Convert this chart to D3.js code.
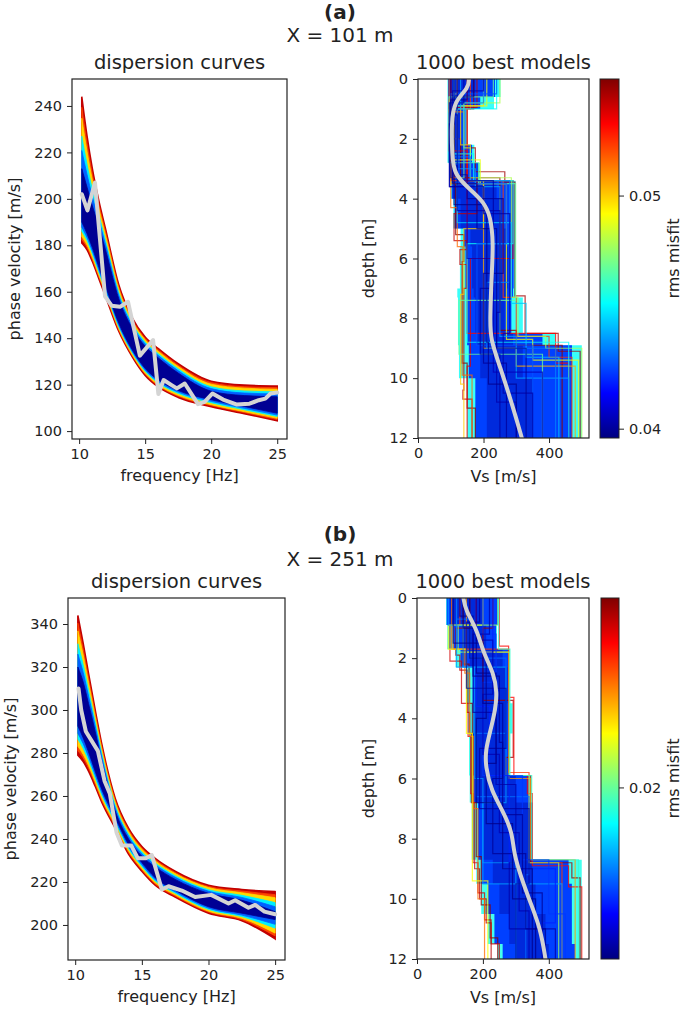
<!DOCTYPE html>
<html><head><meta charset="utf-8">
<script src="https://cdn.jsdelivr.net/npm/d3@7"></script>
<style>
body{margin:0;background:#fff}
text{font-family:"DejaVu Sans",sans-serif;fill:#222}
</style></head>
<body><svg id="c" width="685" height="1011"></svg>
<script>
// ---------------- DATA ----------------
const freqA = [10.2, 10.6, 11, 11.5, 12, 13, 14, 15, 16, 17.5, 20, 22.5, 25];
const levelMisfitA = [0.0540, 0.0520, 0.0498, 0.0451, 0.0430, 0.0399];
const upperA = [
  [244, 227, 213, 199, 187, 163, 149, 140.5, 135.5, 129, 121.5, 119.8, 119.4],
  [239.4, 223.7, 210.6, 197.4, 185.7, 162.1, 148.3, 139.9, 134.9, 128.4, 120.9, 119.1, 118.7],
  [234.7, 220.4, 208.2, 195.7, 184.3, 161.2, 147.7, 139.3, 134.3, 127.8, 120.2, 118.5, 118.0],
  [227, 214.9, 204.2, 193, 182, 159.7, 146.5, 138.3, 133.3, 126.8, 119.1, 117.3, 116.9],
  [220.8, 210.5, 201, 190.8, 180.3, 158.5, 145.6, 137.5, 132.5, 126, 118.3, 116.4, 116.0],
  [213, 205, 197, 188, 178, 157, 144.5, 136.5, 131.5, 125, 117.2, 115.3, 114.8]
];
const lowerA = [
  [181, 178, 173, 165.5, 158, 143, 132.2, 124, 119, 114.5, 110.5, 107.5, 104.5],
  [182.4, 179.1, 173.9, 166.3, 158.7, 143.5, 132.7, 124.5, 119.5, 115, 111, 108, 105],
  [183.7, 180.1, 174.8, 167, 159.4, 144.1, 133.1, 124.9, 119.9, 115.4, 111.4, 108.4, 105.5],
  [186, 181.9, 176.3, 168.3, 160.5, 144.9, 133.9, 125.7, 120.7, 116.2, 112.2, 109.2, 106.3],
  [187.8, 183.3, 177.5, 169.3, 161.4, 145.6, 134.5, 126.3, 121.3, 116.8, 112.8, 109.8, 106.9],
  [190, 185, 179, 170.5, 162.5, 146.5, 135.2, 127, 122, 117.5, 113.5, 110.6, 107.7]
];
const obsFreqA = [10.2, 10.63, 11.2, 11.96, 12.46, 13.09, 13.7, 14.6, 15.6, 16.0, 16.4, 17.0, 17.4, 18.0, 19.0, 19.5, 20.1, 20.9, 21.9, 22.9, 23.6, 24.1, 24.5, 25];
const obsVelA  = [202, 195, 207, 158, 154, 153.5, 155.7, 132.5, 139.2, 116, 122, 119.8, 118.4, 120.5, 111.6, 112.6, 116.2, 113.6, 111.5, 111.8, 113.3, 114, 116.2, 116.6];

const freqB = [10.2, 10.6, 11, 11.5, 12, 13, 14, 15, 16, 17.5, 20, 22.5, 25];
const levelMisfitB = [0.02464, 0.02333, 0.02189, 0.01884, 0.01742, 0.0154];
const upperB = [
  [344, 331, 317, 300, 284, 259, 245, 236.5, 231, 225, 218.5, 216.5, 215.5],
  [340.4, 328.3, 314.9, 298.5, 282.8, 258.1, 244.3, 235.8, 230.4, 224.4, 217.9, 215.8, 214.1],
  [336.8, 325.6, 312.8, 297, 281.6, 257.2, 243.5, 235.2, 229.8, 223.9, 217.4, 215, 212.7],
  [330.8, 321.1, 309.3, 294.5, 279.6, 255.7, 242.3, 234, 228.8, 222.9, 216.4, 213.8, 210.4],
  [326, 317.5, 306.5, 292.5, 278, 254.5, 241.3, 233.1, 228, 222.2, 215.7, 212.8, 208.5],
  [320, 313, 303, 290, 276, 253, 240, 232, 227, 221.2, 214.7, 211.5, 206.2]
];
const lowerB = [
  [279, 276, 271.5, 264.5, 257, 245, 233, 225, 218.5, 213, 205.5, 202, 193.5],
  [281, 277.7, 272.9, 265.6, 257.9, 245.8, 233.7, 225.6, 219, 213.5, 206, 202.5, 194.9],
  [283.1, 279.3, 274.2, 266.6, 258.8, 246.5, 234.4, 226.2, 219.6, 214, 206.4, 203.1, 196.2],
  [286.4, 282.1, 276.5, 268.4, 260.3, 247.8, 235.5, 227.2, 220.4, 214.8, 207.2, 203.9, 198.5],
  [289.1, 284.3, 278.3, 269.8, 261.5, 248.8, 236.4, 228, 221.1, 215.4, 207.8, 204.6, 200.3],
  [292.5, 287, 280.5, 271.5, 263, 250, 237.5, 229, 222, 216.2, 208.5, 205.5, 202.5]
];
const obsFreqB = [10.25, 10.45, 10.8, 11.7, 12.2, 12.6, 13.1, 13.5, 14.2, 14.7, 15.3, 15.75, 16.5, 17.0, 18.0, 19.0, 20.2, 21.5, 22.0, 23.0, 23.5, 24.2, 25];
const obsVelB  = [310, 300, 290, 281, 267, 261, 243, 237, 237, 231, 231, 232.5, 216.5, 218, 216, 213, 214, 210, 211.5, 208, 209.3, 206.2, 205];

// velocity-model envelopes (layer interfaces in m, Vs in m/s per layer)
const envZA   = [0, 0.6, 1.0, 2.2, 2.8, 3.4, 4.0, 5.0, 5.6, 7.0, 7.3, 8.5, 8.9, 10.0, 12];
const outerLA = [90, 90, 90, 90, 95, 100, 108, 130, 128, 120, 122, 122, 125, 150];
const outerRA = [252, 232, 150, 172, 190, 298, 298, 298, 298, 298, 320, 420, 500, 500];
const blueLA  = [92, 92, 93, 93, 97, 103, 112, 140, 145, 150, 150, 150, 155, 175];
const blueRA  = [235, 190, 145, 165, 185, 292, 292, 292, 292, 290, 285, 380, 470, 470];
const coreLA  = [92, 95, 95, 97, 100, 110, 130, 160, 165, 170, 175, 180, 190, 210];
const coreRA  = [175, 160, 130, 140, 150, 240, 260, 270, 275, 270, 265, 290, 320, 350];
const envMisfitA = [0.0455, 0.0425, 0.0400];

const envZB   = [0, 0.9, 1.7, 2.3, 3.5, 4.5, 5.9, 6.8, 8.7, 9.5, 10.5, 11.5, 12];
const outerLB = [88, 92, 117, 150, 155, 158, 160, 166, 180, 195, 215, 245];
const outerRB = [248, 243, 282, 282, 290, 282, 345, 350, 500, 500, 500, 500];
const blueLB  = [90, 112, 132, 170, 172, 170, 172, 185, 195, 215, 235, 260];
const blueRB  = [245, 240, 279, 279, 279, 279, 340, 350, 460, 470, 470, 480];
const coreLB  = [100, 140, 160, 175, 170, 170, 175, 200, 230, 250, 280, 300];
const coreRB  = [200, 210, 260, 275, 270, 270, 300, 345, 350, 360, 390, 400];
const envMisfitB = [0.0192, 0.0171, 0.01545];

// individual models: [misfit, interfaces, Vs per layer]
const modelsA = [
  [0.0545, [0,1.0,2.3,3.1,3.45,7.25,8.5,9.1,12], [170,150,175,265,296,327,428,495]],
  [0.0540, [0,0.95,2.5,3.3,4.5,5.4,5.7,6.2,7.0,10.4,10.7,12], [180,120,150,180,110,148,128,148,140,137,165]],
  [0.0522, [0,1.0,3.4,7.3,8.6,9.3,12], [160,100,260,300,400,470]],
  [0.0500, [0,0.9,2.2,3.4,5.0,7.2,10.2,12], [200,130,160,200,140,130,140]],
  [0.0480, [0,0.8,2.3,3.3,7.3,8.6,9.0,12], [250,140,160,285,305,390,500]],
  [0.0455, [0,1.0,2.5,3.4,5.5,8.8,12], [240,105,170,290,150,460]],
  [0.0550, [0,3.5,5.2,6.1,9.5,11.0,12], [110,115,140,135,150,175]],
  [0.0530, [0,8.5,9.5,12], [150,420,460]],
  [0.0505, [0,0.5,3.5,9.0,9.6,12], [120,100,200,300,480]],
  [0.0548, [0,2.0,3.3,8.4,8.9,12], [100,130,250,300,440]],
  [0.0470, [0,0.6,2.8,3.5,7.4,9.2,12], [230,95,185,298,125,380]],
  [0.0515, [0,1.1,3.3,4.3,5.6,9.9,12], [95,140,100,120,135,165]],
  [0.0490, [0,0.9,2.7,3.5,8.7,9.4,12], [210,110,190,270,350,490]],
  [0.0535, [0,0.7,2.4,3.4,6.0,9.6,12], [100,95,150,290,160,150]],
  [0.0435, [0,0.8,2.6,3.4,6.8,9.0,12], [200,98,160,280,210,420]],
  [0.0440, [0,1.0,3.0,3.6,8.6,10.0,12], [130,120,175,250,300,460]],
  [0.0428, [0,0.5,2.0,3.5,5.5,8.9,12], [240,100,125,270,180,350]],
  [0.0445, [0,0.9,3.3,4.8,7.5,9.3,12], [110,140,120,285,330,430]],
  [0.0405, [0,1.5,3.6,6.0,9.8,12], [110,96,150,230,380]],
  [0.0403, [0,0.4,2.9,4.4,7.8,10.8,12], [200,105,120,250,240,300]],
  [0.0398, [0,0.7,3.3,4.2,8.8,10.2,12], [150,100,110,210,215,300]],
  [0.0399, [0,1.0,3.5,5.0,9.0,12], [120,105,180,240,330]],
  [0.0400, [0,0.6,3.2,4.0,6.5,9.5,12], [170,110,150,260,200,270]],
  [0.0401, [0,1.2,3.4,7.0,9.2,12], [100,120,230,190,250]],
  [0.0402, [0,0.8,3.6,4.5,8.5,10.5,12], [140,96,200,280,260,350]]
];
const modelsB = [
  [0.0248, [0,1.0,1.9,2.4,3.8,4.5,6.8,9.0,10.0,10.8,12], [160,118,130,152,160,165,175,190,210,225]],
  [0.0250, [0,1.0,3.4,5.3,5.9,8.8,9.3,12], [230,200,292,270,345,470,495]],
  [0.0235, [0,0.9,1.7,5.8,8.8,12], [130,110,278,340,440]],
  [0.0215, [0,0.9,1.7,4.5,6.8,9.4,12], [200,95,150,168,168,215]],
  [0.0195, [0,1.7,5.9,8.7,12], [248,282,348,490]],
  [0.0180, [0,2.3,6.8,9.5,12], [120,270,200,440]],
  [0.0245, [0,0.9,2.1,3.5,4.6,6.5,8.8,9.8,10.7,11.5,12], [180,100,135,155,163,170,185,205,225,250]],
  [0.0240, [0,1.6,3.3,5.9,6.5,8.9,9.6,12], [250,278,294,335,350,460,500]],
  [0.0225, [0,1.8,6.0,8.7,12], [150,280,345,480]],
  [0.0252, [0,2.2,3.5,6.8,8.6,10.2,11.3,12], [140,158,168,180,195,222,245]],
  [0.0205, [0,0.9,1.8,5.9,8.8,12], [245,125,280,340,430]],
  [0.0230, [0,1.7,2.5,4.6,7.0,10.0,12], [105,145,160,172,185,205]],
  [0.0170, [0,1.2,2.8,5.9,8.7,10.5,12], [200,240,200,320,400,450]],
  [0.0175, [0,0.7,2.0,4.5,6.6,9.2,12], [120,160,270,180,340,330]],
  [0.0168, [0,1.8,3.6,5.9,9.0,10.8,12], [230,180,220,280,420,380]],
  [0.0180, [0,0.9,2.3,6.0,8.8,12], [95,140,175,200,300]],
  [0.0157, [0,1.4,3.2,5.2,7.8,10.4,12], [180,230,200,250,310,340]],
  [0.0154, [0,0.6,2.6,4.8,7.2,9.8,12], [130,170,250,260,320,380]],
  [0.0153, [0,1.0,2.5,5.5,7.5,10.0,12], [140,180,240,210,290,360]],
  [0.0154, [0,1.5,3.5,6.0,8.5,11,12], [110,200,260,230,330,390]],
  [0.0155, [0,0.8,3.0,5.0,7.0,9.5,12], [190,150,270,190,340,300]],
  [0.0153, [0,2.0,4.0,6.8,9.0,12], [160,210,180,260,350]],
  [0.0156, [0,1.2,3.8,6.2,8.8,11,12], [220,170,240,300,280,420]]
];

const medDepthA = [0, 0.3, 0.75, 1.5, 2.5, 3.2, 3.7, 4.1, 4.6, 5.5, 6.5, 8.0, 8.7, 9.6, 11, 12];
const medVsA    = [155, 155, 110, 102, 104, 110, 160, 200, 222, 230, 225, 220, 221, 250, 291, 317];
const medDepthB = [0, 0.4, 1.05, 1.85, 2.5, 3.15, 3.7, 4.4, 5.05, 5.6, 6.4, 7.15, 7.8, 8.5, 9.25, 10.15, 11.0, 12];
const medVsB    = [141, 147, 182, 202, 233, 243, 238, 223, 208, 208, 225, 264, 289, 294, 315, 345, 375, 390];

const velTicksA = [100, 120, 140, 160, 180, 200, 220, 240];
const velTicksB = [200, 220, 240, 260, 280, 300, 320, 340];
const freqTicks = [10, 15, 20, 25];
const vsTicks = [0, 200, 400];
const depthTicks = [0, 2, 4, 6, 8, 10, 12];
const cbTicksA = [0.04, 0.05];
const cbTicksB = [0.02];

// ---------------- DRAWING ----------------
const svg = d3.select('#c');
const defs = svg.append('defs');
function jet(t){
  t = Math.max(0, Math.min(1, t));
  const c = v => Math.round(255*Math.max(0, Math.min(1, v)));
  return `rgb(${c(Math.min(4*t-1.5, -4*t+4.5))},${c(Math.min(4*t-0.5, -4*t+3.5))},${c(Math.min(4*t+0.5, -4*t+2.5))})`;
}
const INK = '#222';
let clipN = 0;
function clip(xr, yr){
  const id = 'cl' + (clipN++);
  defs.append('clipPath').attr('id', id).append('rect')
    .attr('x', xr[0]).attr('y', yr[1]).attr('width', xr[1]-xr[0]).attr('height', yr[0]-yr[1]);
  return `url(#${id})`;
}
function styleAxis(g){
  g.select('.domain').remove();
  g.selectAll('.tick line').attr('stroke', INK).attr('stroke-width', 1);
  g.selectAll('.tick text').attr('font-size', 14.5).attr('fill', INK)
    .style('font-family', '"DejaVu Sans",sans-serif');
}
function frame(xr, yr){
  svg.append('rect').attr('x', xr[0]).attr('y', yr[1]).attr('width', xr[1]-xr[0])
    .attr('height', yr[0]-yr[1]).attr('fill', 'none').attr('stroke', INK).attr('stroke-width', 1.2);
}
function label(txt, x, y, opts = {}){
  const t = svg.append('text').text(txt).attr('text-anchor', 'middle')
    .attr('font-size', opts.size || 16);
  if (opts.bold) t.attr('font-weight', 'bold');
  if (opts.rot) t.attr('transform', `translate(${x},${y}) rotate(-90)`).attr('dy', '0.35em');
  else t.attr('x', x).attr('y', y);
  return t;
}

function dispersion(p){
  const x = d3.scaleLinear().domain([9.46, 25.74]).range(p.xr);
  const y = d3.scaleLinear().domain(p.vdom).range(p.yr);
  const col = m => jet((m - p.cdom[0])/(p.cdom[1]-p.cdom[0]));
  const g = svg.append('g').attr('clip-path', clip(p.xr, p.yr));
  p.misfit.forEach((m, i) => {
    const area = d3.area().curve(d3.curveMonotoneX)
      .x((f) => x(f))
      .y0((f, j) => y(p.lower[i][j]))
      .y1((f, j) => y(p.upper[i][j]));
    g.append('path').attr('d', area(p.freq)).attr('fill', col(m))
      .attr('stroke', col(m)).attr('stroke-width', i === 0 ? 1.6 : 0.8);
  });
  const line = d3.line().x((f) => x(f)).y((f, j) => y(p.obsV[j]));
  g.append('path').attr('d', line(p.obsF)).attr('fill', 'none')
    .attr('stroke', '#d4d4d4').attr('stroke-width', 4).attr('stroke-linejoin', 'round').attr('stroke-linecap', 'round');
  frame(p.xr, p.yr);
  svg.append('g').attr('transform', `translate(0,${p.yr[0]})`)
    .call(d3.axisBottom(x).tickValues(freqTicks).tickSize(5).tickPadding(5).tickFormat(d3.format('d'))).call(styleAxis);
  svg.append('g').attr('transform', `translate(${p.xr[0]},0)`)
    .call(d3.axisLeft(y).tickValues(p.vticks).tickSize(5).tickPadding(5).tickFormat(d3.format('d'))).call(styleAxis);
  label('dispersion curves', (p.xr[0]+p.xr[1])/2, p.yr[1]-10, {size: 19.5});
  label('frequency [Hz]', (p.xr[0]+p.xr[1])/2, p.yr[0]+42);
  label('phase velocity [m/s]', p.ylabX, (p.yr[0]+p.yr[1])/2, {rot: true});
}

function models(p){
  const x = d3.scaleLinear().domain([0, 522]).range(p.xr);
  const y = d3.scaleLinear().domain([0, 12]).range([p.yr[1], p.yr[0]]);
  const col = m => jet((m - p.cdom[0])/(p.cdom[1]-p.cdom[0]));
  const g = svg.append('g').attr('clip-path', clip(p.xr, p.yr));
  const ln = d3.line().x(d => x(d[0])).y(d => y(d[1]));
  const env = (z, L, R) => {
    const pts = [];
    L.forEach((v, i) => { pts.push([v, z[i]], [v, z[i+1]]); });
    for (let i = R.length-1; i >= 0; i--) pts.push([R[i], z[i+1]], [R[i], z[i]]);
    return ln(pts) + 'Z';
  };
  g.append('path').attr('d', env(p.z, p.outerL, p.outerR)).attr('fill', col(p.envM[0])).attr('opacity', 0.8);
  g.append('path').attr('d', env(p.z, p.blueL, p.blueR)).attr('fill', col(p.envM[1]));
  g.append('path').attr('d', env(p.z, p.coreL, p.coreR)).attr('fill', col(p.envM[2])).attr('opacity', 0.35);
  const step = (z, vs) => { const pts = []; vs.forEach((v, i) => pts.push([v, z[i]], [v, z[i+1]])); return ln(pts); };
  const sorted = p.models.slice().sort((a, b) => b[0] - a[0]);
  sorted.forEach(mdl => {
    g.append('path').attr('d', step(mdl[1], mdl[2])).attr('fill', 'none')
      .attr('stroke', col(mdl[0])).attr('stroke-width', 1.2).attr('stroke-opacity', 0.75);
  });
  const med = d3.line().curve(d3.curveBasis).x((d, j) => x(p.medVs[j])).y(d => y(d));
  g.append('path').attr('d', med(p.medD)).attr('fill', 'none')
    .attr('stroke', '#d2d2d2').attr('stroke-width', 4).attr('stroke-linecap', 'round');
  frame(p.xr, p.yr);
  svg.append('g').attr('transform', `translate(0,${p.yr[0]})`)
    .call(d3.axisBottom(x).tickValues(vsTicks).tickSize(5).tickPadding(5).tickFormat(d3.format('d'))).call(styleAxis);
  svg.append('g').attr('transform', `translate(${p.xr[0]},0)`)
    .call(d3.axisLeft(y).tickValues(depthTicks).tickSize(5).tickPadding(5).tickFormat(d3.format('d'))).call(styleAxis);
  label('1000 best models', (p.xr[0]+p.xr[1])/2, p.yr[1]-10, {size: 19.5});
  label('Vs [m/s]', (p.xr[0]+p.xr[1])/2, p.yr[0]+44);
  label('depth [m]', 368, (p.yr[0]+p.yr[1])/2, {rot: true});

  // colorbar
  const gid = 'grad' + clipN;
  const grad = defs.append('linearGradient').attr('id', gid).attr('x1', 0).attr('y1', 1).attr('x2', 0).attr('y2', 0);
  d3.range(0, 1.0001, 0.025).forEach(t => grad.append('stop').attr('offset', t).attr('stop-color', jet(t)));
  svg.append('rect').attr('x', p.cbx[0]).attr('y', p.yr[1]).attr('width', p.cbx[1]-p.cbx[0])
    .attr('height', p.yr[0]-p.yr[1]).attr('fill', `url(#${gid})`).attr('stroke', INK).attr('stroke-width', 1);
  const cy = d3.scaleLinear().domain(p.cdom).range(p.yr);
  svg.append('g').attr('transform', `translate(${p.cbx[1]},0)`)
    .call(d3.axisRight(cy).tickValues(p.cbTicks).tickSize(5).tickPadding(5).tickFormat(d3.format('.2f'))).call(styleAxis);
  label('rms misfit', 673, (p.yr[0]+p.yr[1])/2, {rot: true});
}

// headers
label('(a)', 340, 19, {size: 20, bold: true});
label('X = 101 m', 340, 42, {size: 20});
label('(b)', 340, 541, {size: 20, bold: true});
label('X = 251 m', 340, 566, {size: 20});

dispersion({xr: [72, 287], yr: [439, 79], vdom: [96.6, 251.6], cdom: [0.0396, 0.0550],
  freq: freqA, upper: upperA, lower: lowerA, misfit: levelMisfitA, obsF: obsFreqA, obsV: obsVelA,
  vticks: velTicksA, ylabX: 14});
models({xr: [418, 589], yr: [438, 79], cbx: [600, 619], cdom: [0.0396, 0.0550], cbTicks: cbTicksA,
  z: envZA, outerL: outerLA, outerR: outerRA, blueL: blueLA, blueR: blueRA, coreL: coreLA, coreR: coreRA,
  envM: envMisfitA, models: modelsA, medD: medDepthA, medVs: medVsA});

dispersion({xr: [68, 285], yr: [960, 598], vdom: [183.7, 352.1], cdom: [0.0152, 0.0253],
  freq: freqB, upper: upperB, lower: lowerB, misfit: levelMisfitB, obsF: obsFreqB, obsV: obsVelB,
  vticks: velTicksB, ylabX: 10});
models({xr: [417, 589], yr: [959, 598], cbx: [601, 619], cdom: [0.0152, 0.0253], cbTicks: cbTicksB,
  z: envZB, outerL: outerLB, outerR: outerRB, blueL: blueLB, blueR: blueRB, coreL: coreLB, coreR: coreRB,
  envM: envMisfitB, models: modelsB, medD: medDepthB, medVs: medVsB});
</script></body></html>
